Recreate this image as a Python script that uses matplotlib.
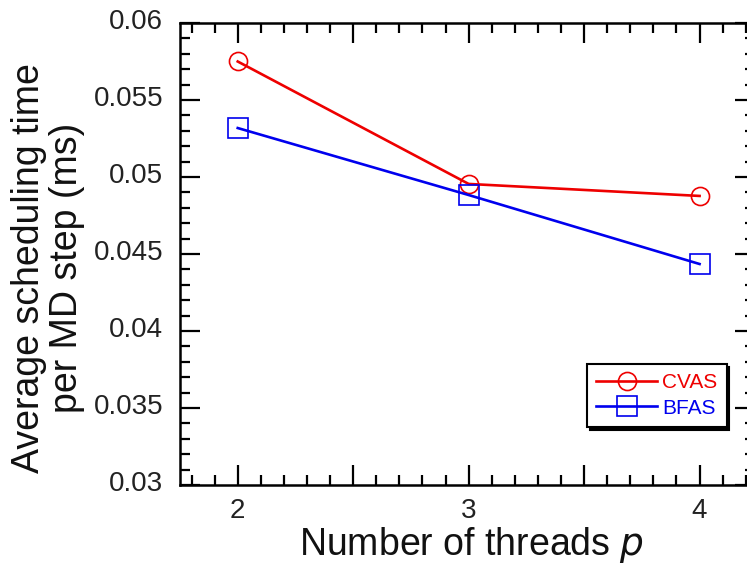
import matplotlib
matplotlib.use("Agg")
import matplotlib.pyplot as plt
from matplotlib.ticker import MultipleLocator, FuncFormatter
from matplotlib.transforms import ScaledTranslation

threads = [2, 3, 4]
cvas = [0.0575, 0.04955, 0.04877]
bfas = [0.05318, 0.04883, 0.04435]
ytick_vals = [0.03, 0.035, 0.04, 0.045, 0.05, 0.055, 0.06]
ytick_labels = ["0.03", "0.035", "0.04", "0.045", "0.05", "0.055", "0.06"]

plt.rcParams['font.family'] = ['Liberation Sans', 'DejaVu Sans']

W, H = 747, 564
fig = plt.figure(figsize=(W / 100, H / 100), dpi=100)
left, right, top, bottom = 180, 755, 23, 485
ax = fig.add_axes([left / W, 1 - bottom / H, (right - left) / W, (bottom - top) / H])

ax.plot(threads, cvas, color='#ee0000', lw=1.9, marker='o', ms=13,
        mfc='none', mec='#ee0000', mew=1.2, label='CVAS')
ax.plot(threads, bfas, color='#0000ee', lw=1.9, marker='s', ms=14,
        mfc='none', mec='#0000ee', mew=1.2, label='BFAS')

ax.set_xlim(1.75, 4.24)
ax.set_ylim(0.03, 0.06)
ax.set_yticks(ytick_vals)
ax.set_yticklabels(ytick_labels)
ax.yaxis.set_minor_locator(MultipleLocator(0.001))
ax.xaxis.set_major_locator(MultipleLocator(0.5))
ax.xaxis.set_minor_locator(MultipleLocator(0.1))
ax.xaxis.set_major_formatter(FuncFormatter(lambda v, p: f"{int(round(v))}" if abs(v - round(v)) < 1e-6 else ""))

ax.tick_params(which='both', direction='in', top=True, right=True, width=1.6, colors='black')
ax.tick_params(which='major', length=14.5, labelsize=20)
ax.tick_params(which='minor', length=7.5)
ax.tick_params(axis='y', which='major', pad=12, labelcolor='#222222')
ax.tick_params(axis='x', which='major', pad=9, labelcolor='#222222')
for s in ax.spines.values():
    s.set_linewidth(1.8)

shift = ScaledTranslation(0, 4 / 100, fig.dpi_scale_trans)
for lbl in ax.get_yticklabels():
    lbl.set_transform(lbl.get_transform() + shift)

fig.text(48 / W, 1 - 268 / H, "Average scheduling time\nper MD step (ms)", rotation=90,
         ha='center', va='center', multialignment='center', fontsize=27, linespacing=1.05,
         color='#111111')
fig.text(472 / W, 1 - 555 / H, "Number of threads $p$", ha='center', va='baseline',
         fontsize=27, color='#111111')

leg = ax.legend(loc='upper left', bbox_to_anchor=(587 / W, 1 - 364 / H),
                bbox_transform=fig.transFigure, borderaxespad=0, fontsize=15,
                frameon=True, fancybox=False, shadow={'color': 'black', 'alpha': 1},
                handlelength=2.9, handletextpad=0.25, labelspacing=0.3, borderpad=0.45)
leg.get_frame().set_edgecolor('black')
leg.get_frame().set_linewidth(1.5)
for t, c in zip(leg.get_texts(), ['#ee0000', '#0000ee']):
    t.set_color(c)

fig.savefig('out.png', dpi=100)
